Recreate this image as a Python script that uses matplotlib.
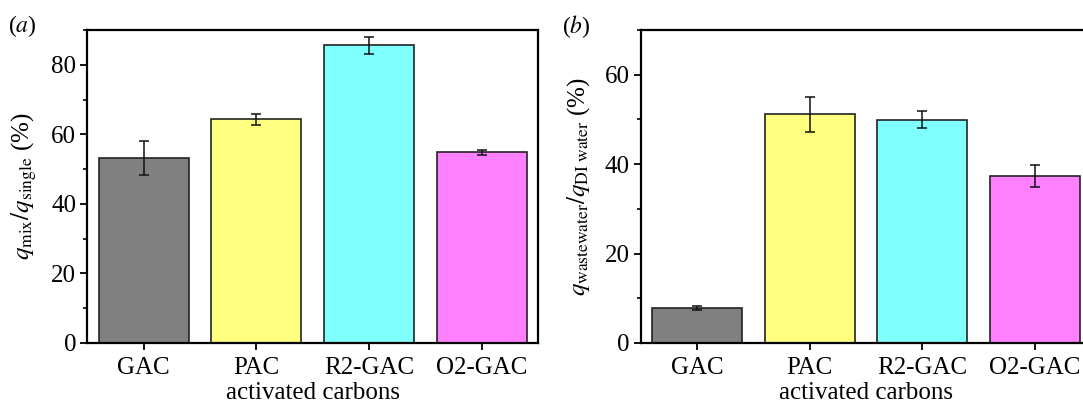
import numpy as np
import matplotlib
matplotlib.use("Agg")
import matplotlib.pyplot as plt
from matplotlib.ticker import MultipleLocator

plt.rcParams['font.family'] = ['Liberation Serif', 'DejaVu Serif']
plt.rcParams['mathtext.fontset'] = 'stix'
plt.rcParams['font.size'] = 18

carbons = ['GAC', 'PAC', 'R2-GAC', 'O2-GAC']
colors = ['#808080', '#ffff80', '#80ffff', '#ff80ff']

# panel (a): q_mix / q_single
mix_vals = [53.2, 64.3, 85.6, 54.8]
mix_err = [4.9, 1.6, 2.5, 0.7]

# panel (b): q_wastewater / q_DI water
ww_vals = [7.8, 51.2, 49.9, 37.3]
ww_err = [0.5, 3.9, 1.9, 2.5]

fig = plt.figure(figsize=(10.83, 4.05), dpi=100)
ax1 = fig.add_axes([0.0806, 0.1531, 0.4162, 0.7728])
ax2 = fig.add_axes([0.5916, 0.1531, 0.4162, 0.7728])


def draw(ax, vals, errs, ymax, ylabel):
    x = np.arange(len(carbons))
    ax.bar(x, vals, width=0.8, color=colors, edgecolor='#222222', linewidth=1.2, zorder=2)
    ax.errorbar(x, vals, yerr=errs, fmt='none', ecolor='#111111', elinewidth=1.1,
                capsize=3.5, capthick=1.1, zorder=3)
    ax.set_xlim(-0.5, 3.5)
    ax.set_ylim(0, ymax)
    ax.set_xticks(x)
    ax.set_xticklabels(carbons)
    ax.yaxis.set_major_locator(MultipleLocator(20))
    ax.yaxis.set_minor_locator(MultipleLocator(10))
    ax.tick_params(axis='both', direction='out', width=1.3, length=5)
    ax.tick_params(axis='y', which='minor', direction='out', width=1.2, length=3)
    ax.tick_params(axis='y', which='major', pad=3)
    ax.tick_params(axis='x', which='major', pad=5)
    for s in ax.spines.values():
        s.set_linewidth(1.6)
    ax.set_xlabel('activated carbons', labelpad=2)
    ax.set_ylabel(ylabel, labelpad=9)


draw(ax1, mix_vals, mix_err, 90, r'$q_{\mathrm{mix}}/q_{\mathrm{single}}$ (%)')
draw(ax2, ww_vals, ww_err, 70, r'$q_{\mathrm{wastewater}}/q_{\mathrm{DI\ water}}$ (%)')

fig.text(0.007, 0.935, r'($\it{a}$)', fontsize=17, va='center')
fig.text(0.519, 0.935, r'($\it{b}$)', fontsize=17, va='center')

fig.savefig('out.png', dpi=100)
